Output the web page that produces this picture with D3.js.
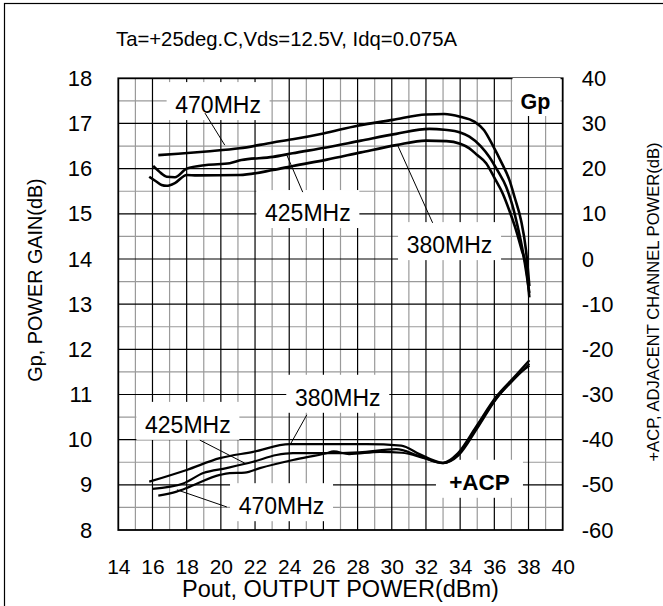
<!DOCTYPE html>
<html><head><meta charset="utf-8">
<script src="https://cdn.jsdelivr.net/npm/d3@7/dist/d3.min.js"></script>
<style>
html,body{margin:0;padding:0;background:#fff;}
svg{display:block;font-family:"Liberation Sans",Arial,sans-serif;}
</style></head>
<body><svg id="c" width="663" height="606"></svg>
<script>
// ---------- data ----------
const titleText = "Ta=+25deg.C,Vds=12.5V, Idq=0.075A";
const xTicks = [14,16,18,20,22,24,26,28,30,32,34,36,38,40];
const gpTicks = [8,9,10,11,12,13,14,15,16,17,18];
const acpTicks = [-60,-50,-40,-30,-20,-10,0,10,20,30,40];

// Power gain (dB) vs Pout (dBm)
const gpPout470 = [16.34,17.5,19.16,21.1,23.05,24.2,26.0,28.0,30.06,32.0,33.08,34.0,34.83,35.4,35.9,36.4,36.88,37.2,37.56,37.85,38.05];
const gp470     = [16.30,16.33,16.38,16.45,16.58,16.65,16.78,16.95,17.08,17.2,17.21,17.15,17.04,16.85,16.52,16.15,15.75,15.35,14.86,14.2,13.4];
const gpPout425 = [16.04,16.5,16.83,17.31,18.0,19.16,20.52,21.2,23.05,24.2,26.17,28.2,30.26,32.2,33.08,34.0,34.54,35.2,35.71,36.2,36.69,37.05,37.37,37.7,38.05];
const gp425     = [16.06,15.9,15.82,15.81,16.0,16.08,16.12,16.19,16.26,16.34,16.47,16.62,16.77,16.88,16.86,16.8,16.71,16.5,16.26,15.95,15.6,15.2,14.71,14.1,13.25];
const gpPout380 = [15.81,16.2,16.53,16.83,17.31,18.0,18.6,21.1,23.05,24.22,26.2,28.2,30.26,32.0,33.2,34.0,34.54,35.0,35.52,36.0,36.49,36.9,37.27,37.6,37.86,38.05];
const gp380     = [15.82,15.72,15.64,15.62,15.68,15.86,15.85,15.86,15.97,16.06,16.2,16.36,16.52,16.62,16.61,16.55,16.45,16.3,16.12,15.8,15.45,15.05,14.64,14.2,13.83,13.15];

// Adjacent channel power (dB) vs Pout (dBm)
const acpPout380 = [15.81,18.0,19.94,21.89,24.03,26.0,28.5,30.55,31.62,32.99,33.86,34.93,36.1,37.27,38.05];
const acp380     = [-49.3,-46.7,-44.1,-42.7,-41.0,-41.0,-41.0,-41.3,-43.2,-45.1,-43.0,-37.1,-30.5,-25.7,-22.4];
const acpPout425 = [16.0,17.8,18.97,20.33,21.89,23.25,24.22,26.0,28.1,30.26,31.6,33.0,33.9,35.0,36.1,37.27,38.05];
const acp425     = [-50.9,-49.7,-47.4,-46.3,-44.9,-43.4,-43.0,-43.0,-42.8,-42.1,-43.6,-45.2,-43.2,-37.0,-31.0,-26.2,-23.2];
const acpPout470 = [16.34,17.41,18.19,19.94,20.52,21.4,22.28,24.22,26.17,26.6,27.5,29.3,30.6,31.9,33.0,33.9,35.0,36.1,37.27,38.05];
const acp470     = [-52.4,-51.5,-50.4,-47.8,-47.4,-47.3,-46.3,-44.5,-43.0,-42.6,-43.2,-42.7,-42.9,-44.1,-45.2,-43.5,-37.5,-31.0,-26.0,-23.6];

// annotation labels: text, centre (pout), baseline (gain units), leader from/to (pout, gain)
const labelTexts = ["470MHz","425MHz","380MHz","380MHz","425MHz","470MHz"];
const labelX     = [19.84,25.09,33.38,26.84,18.07,23.55];
const labelY     = [17.23,14.84,14.13,10.75,10.15,8.35];
const leaderX1   = [19.07,24.79,32.39,25.03,18.77,20.35];
const leaderY1   = [17.23,15.48,14.80,10.55,9.99,8.51];
const leaderX2   = [20.23,23.86,30.34,24.04,21.40,17.43];
const leaderY2   = [16.52,16.30,16.52,9.88,9.48,8.89];

// ---------- layout ----------
const L = 118.3, R = 562.7, T = 78.3, B = 530;
const svg = d3.select("#c");
const x = d3.scaleLinear().domain([14,40]).range([L,R]);
const yG = d3.scaleLinear().domain([8,18]).range([B,T]);
const yA = d3.scaleLinear().domain([-60,40]).range([B,T]);

// outer frame
svg.append("rect").attr("x",4.5).attr("y",3.5).attr("width",700).attr("height",700)
  .attr("fill","none").attr("stroke","#000").attr("stroke-width",1.2);

// title
svg.append("text").attr("x",116).attr("y",46).attr("font-size",20.3).text(titleText);

// grid
const g = svg.append("g");
const minorX = d3.range(15,40,2), majorX = d3.range(16,40,2);
const minorY = d3.range(8.5,18,1), majorY = d3.range(9,18,1);
g.selectAll(".vx").data(minorX).join("line")
  .attr("x1",d=>x(d)).attr("x2",d=>x(d)).attr("y1",T).attr("y2",B)
  .attr("stroke","#9a9a9a").attr("stroke-width",1.2);
g.selectAll(".hy").data(minorY).join("line")
  .attr("y1",d=>yG(d)).attr("y2",d=>yG(d)).attr("x1",L).attr("x2",R)
  .attr("stroke","#9a9a9a").attr("stroke-width",1.2);
g.selectAll(".vX").data(majorX).join("line")
  .attr("x1",d=>x(d)).attr("x2",d=>x(d)).attr("y1",T).attr("y2",B)
  .attr("stroke","#000").attr("stroke-width",1.2);
g.selectAll(".hY").data(majorY).join("line")
  .attr("y1",d=>yG(d)).attr("y2",d=>yG(d)).attr("x1",L).attr("x2",R)
  .attr("stroke","#000").attr("stroke-width",1.2);

// axes (labels only)
const axL = svg.append("g").attr("transform",`translate(${L},0)`)
  .call(d3.axisLeft(yG).tickValues(gpTicks).tickSize(0).tickPadding(26));
const axR = svg.append("g").attr("transform",`translate(${R},0)`)
  .call(d3.axisRight(yA).tickValues(acpTicks).tickSize(0).tickPadding(19).tickFormat(d3.format("d")));
const axB = svg.append("g").attr("transform",`translate(0,${B})`)
  .call(d3.axisBottom(x).tickValues(xTicks).tickSize(0).tickPadding(29));
[axL,axR,axB].forEach(a=>{
  a.select(".domain").remove();
  a.selectAll("text").attr("font-family","Liberation Sans, Arial, sans-serif").attr("font-size",22).attr("fill","#000");
});
axB.selectAll("text").attr("font-size",21);
axR.selectAll("text").text(d=>d<0 ? "-"+Math.abs(d) : d);

// frame of plot
svg.append("rect").attr("x",L).attr("y",T).attr("width",R-L).attr("height",B-T)
  .attr("fill","none").attr("stroke","#000").attr("stroke-width",1.8);

// axis titles
svg.append("text").attr("x",(L+R)/2).attr("y",597).attr("text-anchor","middle")
  .attr("font-size",23.5).text("Pout, OUTPUT POWER(dBm)");
svg.append("text").attr("transform","translate(42,280) rotate(-90)").attr("text-anchor","middle")
  .attr("font-size",19.8).text("Gp, POWER GAIN(dB)");
svg.append("text").attr("transform","translate(659,302) rotate(-90)").attr("text-anchor","middle")
  .attr("font-size",16.6).text("+ACP, ADJACENT CHANNEL POWER(dB)");

// white label boxes
const ann = svg.append("g");
function box(cx, base, w){
  ann.append("rect").attr("x",cx-w/2).attr("y",base-31).attr("width",w).attr("height",38).attr("fill","#fff");
}
labelTexts.forEach((t,i)=>box(x(labelX[i]), yG(labelY[i]), 103));
box(x(38.41)+1, yG(17.32), 48);
box(x(35.13), yG(8.89)+1, 87);

// leader lines
labelTexts.forEach((t,i)=>{
  ann.append("line").attr("x1",x(leaderX1[i])).attr("y1",yG(leaderY1[i]))
    .attr("x2",x(leaderX2[i])).attr("y2",yG(leaderY2[i]))
    .attr("stroke","#000").attr("stroke-width",1);
});
labelTexts.forEach((t,i)=>{
  ann.append("text").attr("x",x(labelX[i])).attr("y",yG(labelY[i]))
    .attr("text-anchor","middle").attr("font-size",23).text(t);
});
ann.append("text").attr("x",x(38.41)).attr("y",yG(17.32)).attr("text-anchor","middle")
  .attr("font-size",21.5).attr("font-weight","bold").text("Gp");
ann.append("text").attr("x",x(35.13)).attr("y",yG(8.89)).attr("text-anchor","middle")
  .attr("font-size",22.5).attr("font-weight","bold").text("+ACP");

// curves
const lineG = d3.line().x(d=>x(d[0])).y(d=>yG(d[1])).curve(d3.curveMonotoneX);
const lineA = d3.line().x(d=>x(d[0])).y(d=>yA(d[1])).curve(d3.curveMonotoneX);
const gpSeries = [[gpPout470,gp470],[gpPout425,gp425],[gpPout380,gp380]];
const acpSeries = [[acpPout380,acp380],[acpPout425,acp425],[acpPout470,acp470]];
const curves = svg.append("g").attr("fill","none").attr("stroke","#000").attr("stroke-linejoin","round");
gpSeries.forEach(([xs,ys])=>{
  curves.append("path").attr("d",lineG(xs.map((v,i)=>[v,ys[i]]))).attr("stroke-width",2.6);
});
acpSeries.forEach(([xs,ys])=>{
  curves.append("path").attr("d",lineA(xs.map((v,i)=>[v,ys[i]]))).attr("stroke-width",2.2);
});
</script></body></html>
